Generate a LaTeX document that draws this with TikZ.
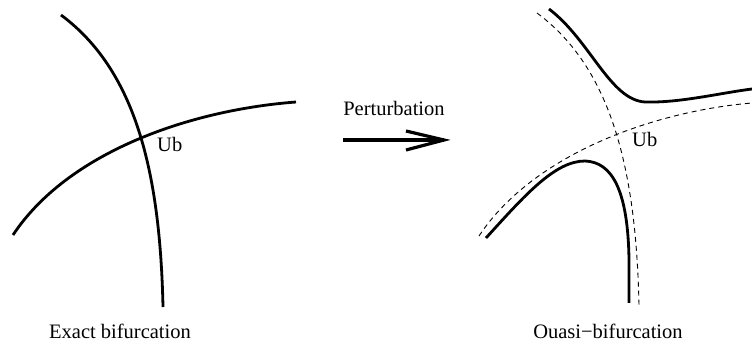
\documentclass[tikz,border=0pt]{standalone}
\usepackage{fontspec}
\setmainfont{Liberation Serif}
\begin{document}
\begin{tikzpicture}[x=1pt,y=-1pt,
  curve/.style={line width=2.8pt,line cap=butt},
  guide/.style={line width=0.9pt,dash pattern=on 5pt off 4pt},
  lbl/.style={font=\fontsize{20.5}{24}\selectfont,inner sep=0pt},
  arr/.style={line width=3.2pt,line cap=butt,line join=miter}]
\useasboundingbox (0,0) rectangle (752,344);
% left: exact bifurcation
\draw[curve] (61,15) .. controls (135,70) and (160,170) .. (163,307);
\draw[curve] (13,235) .. controls (68,152) and (190,110) .. (296,102);
\node[lbl,anchor=base west] (ubl) at (157,152) {Ub};
\node[lbl,anchor=base] (exact) at (120,338) {Exact bifurcation};
% arrow
\node[lbl,anchor=base] (pert) at (394,116) {Perturbation};
\coordinate (as) at (343,140);
\coordinate (at) at (444,140);
\coordinate (au) at (406,131);
\coordinate (ad) at (406,150);
\draw[arr] (as) -- (at);
\draw[arr] (au) -- (at) -- (ad);
% right: quasi-bifurcation
\draw[guide] (537,13) .. controls (611,68) and (636,168) .. (639,305);
\draw[guide] (479,236) .. controls (534,153) and (656,111) .. (752,103);
\draw[curve] (549,9) .. controls (590,40) and (610,100) .. (645,102)
  .. controls (680,103) and (720,93) .. (752,89);
\draw[curve] (486,238) .. controls (525,195) and (555,161) .. (585,161)
  .. controls (612,162) and (628,190) .. (629,260) -- (629,303);
\node[lbl,anchor=base west] (ubr) at (632,147) {Ub};
\node[lbl,anchor=base] (quasi) at (608,338) {Ouasi−bifurcation};
\end{tikzpicture}
\end{document}
